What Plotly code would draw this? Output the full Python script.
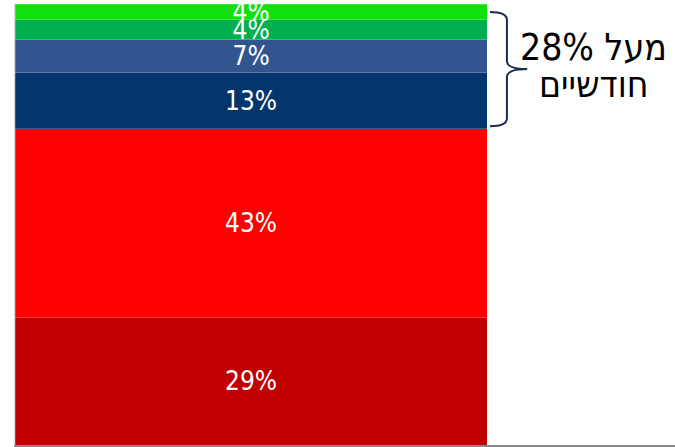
import plotly.graph_objects as go

categories = ["a"]
segment_names = ["s1", "s2", "s3", "s4", "s5", "s6"]
segment_values = [28.8, 42.9, 12.7, 7.5, 4.5, 3.6]
segment_labels = ["29%", "43%", "13%", "7%", "4%", "4%"]
segment_colors = ["#C00000", "#FF0000", "#04356C", "#33558F", "#00B050", "#10E010"]
bracket_lines = ["מעל 28%", "חודשיים"]

FONT = "DejaVu Sans Condensed, DejaVu Sans, sans-serif"

fig = go.Figure()
for name, v, lab, col in zip(segment_names, segment_values, segment_labels, segment_colors):
    fig.add_trace(go.Bar(
        x=[0], y=[v], name=name, width=1,
        marker=dict(color=col, line=dict(color="rgba(255,255,255,0.35)", width=0.6)),
        text=[lab], textposition="inside", insidetextanchor="middle",
        textfont=dict(color="white", size=26, family=FONT),
        cliponaxis=False, hoverinfo="skip",
    ))

# bracket over the top four segments
cum = [sum(segment_values[:i]) for i in range(len(segment_values) + 1)]
total = cum[-1]
ybot = cum[2] + 0.6
ytop = total - 1.8
ymid = (ybot + ytop) / 2
x0, x1, xt = 0.506, 0.542, 0.585
r = 1.8
path = (f"M {x0},{ytop} Q {x1},{ytop} {x1},{ytop-r} L {x1},{ymid+r} "
        f"Q {x1},{ymid} {xt},{ymid} Q {x1},{ymid} {x1},{ymid-r} "
        f"L {x1},{ybot+r} Q {x1},{ybot} {x0},{ybot}")
fig.add_shape(type="path", path=path, xref="x", yref="y",
              line=dict(color="#1F2D4F", width=2))
for txt, dy in zip(bracket_lines, [5.0, -3.6]):
    fig.add_annotation(x=0.726, y=ymid + dy, xref="x", yref="y", text=txt,
                       showarrow=False, align="center", yanchor="middle",
                       font=dict(size=37, color="black", family=FONT))

fig.update_layout(
    width=675, height=447, barmode="stack", showlegend=False,
    margin=dict(l=15, r=0, t=4, b=2),
    paper_bgcolor="white", plot_bgcolor="white",
    uniformtext=dict(minsize=26, mode="show"),
    xaxis=dict(range=[-0.5, 0.898], showticklabels=False, showgrid=False, zeroline=False,
               showline=True, linecolor="#888888", linewidth=2, ticks=""),
    yaxis=dict(range=[0, total], showticklabels=False, showgrid=False, zeroline=False,
               showline=True, linecolor="#D9D9D9", linewidth=1, ticks=""),
)
fig.write_html("out.html", config={"displayModeBar": False},
               post_script="document.body.style.margin='0';")
